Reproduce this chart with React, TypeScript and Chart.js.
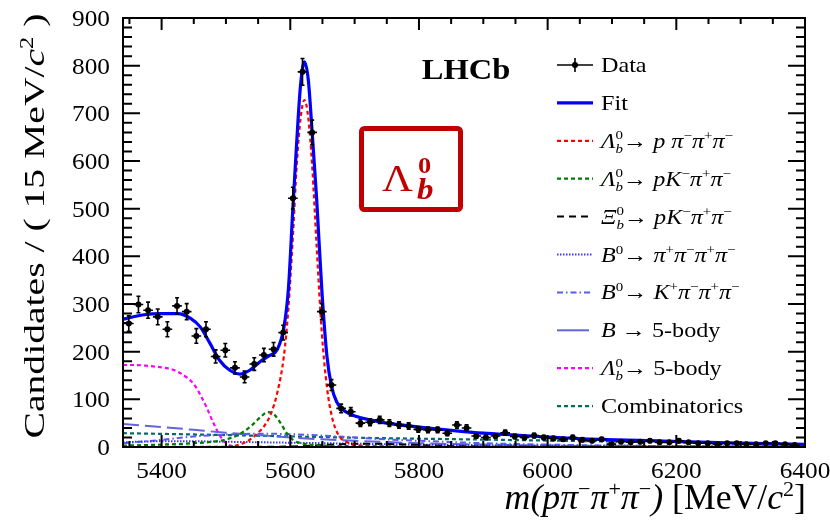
import React, { useEffect, useRef } from "react";
import { Chart, registerables } from "chart.js";
Chart.register(...registerables);

// ---------- DATA ----------
const massBins = [
  5349, 5364, 5379, 5394, 5409, 5424, 5439, 5454, 5469, 5484,
  5499, 5514, 5529, 5544, 5559, 5574, 5589, 5604, 5619, 5634,
  5649, 5664, 5679, 5694, 5709, 5724, 5739, 5754, 5769, 5784,
  5799, 5814, 5829, 5844, 5859, 5874, 5889, 5904, 5919, 5934,
  5949, 5964, 5979, 5994, 6009, 6024, 6039, 6054, 6069, 6084,
  6099, 6114, 6129, 6144, 6159, 6174, 6189, 6204, 6219, 6234,
  6249, 6264, 6279, 6294, 6309, 6324, 6339, 6354, 6369, 6384,
];
const candidates = [
  259, 299, 287, 273, 247, 296, 284, 233, 247, 190,
  203, 166, 147, 174, 193, 205, 240, 522, 787, 660,
  284, 130, 81, 74, 50, 52, 57, 50, 46, 44,
  37, 36, 36, 29, 46, 40, 23, 20, 23, 30,
  22, 20, 24, 20, 18, 16, 20, 15, 13, 16,
  6, 11, 10, 11, 13, 10, 10, 13, 10, 8,
  8, 6, 8, 8, 6, 6, 8, 8, 6, 4,
];

const fitMass = [5340, 5370, 5400, 5425, 5445, 5460, 5475, 5490, 5506, 5522, 5537, 5553, 5568, 5580, 5590, 5597, 5604, 5610, 5616, 5622, 5628, 5634, 5641, 5649, 5657, 5664, 5672, 5682, 5703, 5724, 5750, 5800, 5850, 5900, 5950, 6000, 6080, 6180, 6280, 6400];
const fitVals = [268, 277, 280, 280, 270, 252, 218, 182, 161, 153, 161, 179, 192, 205, 250, 330, 500, 640, 760, 808, 770, 660, 520, 330, 190, 128, 95, 78, 64, 57, 50, 42, 35, 29, 25, 21, 16, 12.5, 8.5, 5.5];

const signalMass = [5340, 5500, 5525, 5540, 5550, 5560, 5570, 5580, 5590, 5597, 5604, 5610, 5616, 5622, 5628, 5634, 5641, 5649, 5657, 5665, 5675, 5690, 5710, 5750, 5800, 6400];
const signalVals = [0.2, 0.5, 7, 18, 30, 45, 70, 115, 190, 290, 440, 590, 690, 728, 690, 590, 420, 240, 125, 62, 25, 9, 3, 1, 0.3, 0];

const pkpipiMass = [5340, 5400, 5450, 5490, 5510, 5525, 5540, 5553, 5565, 5575, 5585, 5595, 5605, 5620, 5650, 5700, 5800, 6400];
const pkpipiVals = [3, 5, 8, 13, 20, 30, 45, 62, 73, 68, 50, 28, 14, 7, 3, 1.5, 0.5, 0];

const xibMass = [5340, 5560, 5620, 5680, 5720, 5760, 5820, 5900, 6000, 6400];
const xibVals = [0, 0.3, 2, 6, 7, 6, 3, 1, 0.3, 0];

const b4piMass = [5340, 5400, 5450, 5500, 5550, 5600, 5700, 5800, 5900, 6000, 6200, 6400];
const b4piVals = [10, 12, 12, 11, 10, 9, 7, 5, 4, 3, 2, 0.5];

const bk3piMass = [5340, 5400, 5450, 5500, 5550, 5600, 5650, 5700, 5750, 5800, 5900, 6000, 6100, 6250, 6400];
const bk3piVals = [8, 15, 22, 26, 28, 27, 24, 20, 16, 13, 8, 5, 3, 1.5, 0.5];

const b5bodyMass = [5340, 5400, 5450, 5500, 5550, 5600, 5650, 5700, 5800, 5900, 6000, 6200, 6400];
const b5bodyVals = [48, 42, 36, 30, 25, 20, 16, 13, 8, 5, 3, 1, 0.5];

const lb5bodyMass = [5340, 5360, 5380, 5400, 5420, 5440, 5450, 5460, 5470, 5480, 5490, 5500, 5510, 5520, 6400];
const lb5bodyVals = [172, 172, 170, 167, 161, 145, 132, 110, 83, 52, 25, 8, 2, 0, 0];

const combMass = [5340, 5500, 5700, 5900, 6050, 6200, 6400];
const combVals = [29, 25, 19.5, 15.5, 12.5, 9.5, 4];

const xTickValues = [5400, 5600, 5800, 6000, 6200, 6400];
const xTickLabels = ["5400", "5600", "5800", "6000", "6200", "6400"];
const yTickValues = [0, 100, 200, 300, 400, 500, 600, 700, 800, 900];
const yTickLabels = ["0", "100", "200", "300", "400", "500", "600", "700", "800", "900"];

// ---------- TEXT ----------
type Run = { t: string; f?: string; s?: number; dy?: number; stack?: boolean };
const SUP = (t: string): Run => ({ t, s: 0.62, dy: -0.38 });
const SUPS = (t: string): Run => ({ t, s: 0.62, dy: -0.4, stack: true });
const SUB = (t: string): Run => ({ t, f: "i", s: 0.62, dy: 0.24 });
const lambdaB: Run[] = [{ t: "Λ", f: "i" }, SUPS("0"), SUB("b")];

const legendLabels: Run[][] = [
  [{ t: "Data" }],
  [{ t: "Fit" }],
  [...lambdaB, { t: "→ " }, { t: "p", f: "i" }, { t: " π", f: "i" }, SUP("−"), { t: "π", f: "i" }, SUP("+"), { t: "π", f: "i" }, SUP("−")],
  [...lambdaB, { t: "→ " }, { t: "pK", f: "i" }, SUP("−"), { t: "π", f: "i" }, SUP("+"), { t: "π", f: "i" }, SUP("−")],
  [{ t: "Ξ", f: "i" }, SUPS("0"), SUB("b"), { t: "→ " }, { t: "pK", f: "i" }, SUP("−"), { t: "π", f: "i" }, SUP("+"), { t: "π", f: "i" }, SUP("−")],
  [{ t: "B", f: "i" }, SUP("0"), { t: "→ " }, { t: "π", f: "i" }, SUP("+"), { t: "π", f: "i" }, SUP("−"), { t: "π", f: "i" }, SUP("+"), { t: "π", f: "i" }, SUP("−")],
  [{ t: "B", f: "i" }, SUP("0"), { t: "→ " }, { t: "K", f: "i" }, SUP("+"), { t: "π", f: "i" }, SUP("−"), { t: "π", f: "i" }, SUP("+"), { t: "π", f: "i" }, SUP("−")],
  [{ t: "B", f: "i" }, { t: " → 5-body" }],
  [...lambdaB, { t: "→ 5-body" }],
  [{ t: "Combinatorics" }],
];
const yTitle: Run[] = [{ t: "Candidates / ( 15 MeV/" }, { t: "c", f: "i" }, SUP("2"), { t: " )" }];
const xTitle: Run[] = [
  { t: "m(p", f: "i" }, { t: "π", f: "i" }, SUP("−"), { t: "π", f: "i" }, SUP("+"), { t: "π", f: "i" }, SUP("−"), { t: ")", f: "i" },
  { t: " [MeV/" }, { t: "c", f: "i" }, SUP("2"), { t: "]" },
];
const experimentLabel = "LHCb";

const FONT = "'Liberation Serif', 'Times New Roman', serif";
function fontStr(f: string | undefined, size: number) {
  const st = f === "i" ? "italic " : f === "b" ? "bold " : f === "bi" ? "italic bold " : "";
  return `${st}${Math.round(size * 10) / 10}px ${FONT}`;
}
function measureRuns(ctx: CanvasRenderingContext2D, runs: Run[], size: number) {
  let w = 0, pend = 0;
  for (const r of runs) {
    ctx.font = fontStr(r.f, size * (r.s ?? 1));
    const rw = ctx.measureText(r.t).width;
    if (r.stack) pend = rw;
    else { w += Math.max(rw, pend); pend = 0; }
  }
  return w + pend;
}
function drawRuns(ctx: CanvasRenderingContext2D, runs: Run[], x: number, y: number, size: number, sx: number, align: string, color: string) {
  const w = measureRuns(ctx, runs, size) * sx;
  const x0 = align === "left" ? x : align === "right" ? x - w : x - w / 2;
  ctx.save();
  ctx.translate(x0, y);
  ctx.scale(sx, 1);
  ctx.fillStyle = color;
  ctx.textBaseline = "alphabetic";
  ctx.textAlign = "left";
  let cx = 0, pend = 0;
  for (const r of runs) {
    ctx.font = fontStr(r.f, size * (r.s ?? 1));
    const rw = ctx.measureText(r.t).width;
    ctx.fillText(r.t, cx, (r.dy ?? 0) * size);
    if (r.stack) pend = rw;
    else { cx += Math.max(rw, pend); pend = 0; }
  }
  ctx.restore();
}

type Comp = { mass: number[]; vals: number[]; color: string; dash: number[]; width: number; legendSolid?: boolean };
const components: Comp[] = [
  { mass: signalMass, vals: signalVals, color: "#ff0000", dash: [4, 3], width: 2.2 },
  { mass: pkpipiMass, vals: pkpipiVals, color: "#007a00", dash: [4, 3], width: 2.2 },
  { mass: xibMass, vals: xibVals, color: "#000000", dash: [7, 5], width: 2 },
  { mass: b4piMass, vals: b4piVals, color: "#3a3aff", dash: [1.5, 1.5], width: 2 },
  { mass: bk3piMass, vals: bk3piVals, color: "#5a5af0", dash: [6, 3, 1.5, 3], width: 2 },
  { mass: b5bodyMass, vals: b5bodyVals, color: "#6464dc", dash: [16, 6], width: 2, legendSolid: true },
  { mass: lb5bodyMass, vals: lb5bodyVals, color: "#ff00ff", dash: [4, 3], width: 2.2 },
  { mass: combMass, vals: combVals, color: "#006b6b", dash: [4, 3], width: 2.2 },
];

const errorBarPlugin = {
  id: "errbars",
  afterDatasetsDraw(chart: any) {
    const { ctx, scales } = chart;
    const xs = scales.x, ys = scales.y;
    ctx.save();
    ctx.strokeStyle = "#000";
    ctx.lineWidth = 1.6;
    for (let i = 0; i < massBins.length; i++) {
      const m = massBins[i], n = candidates[i];
      const e = Math.sqrt(n);
      const px = xs.getPixelForValue(m);
      const py = ys.getPixelForValue(n);
      const pl = xs.getPixelForValue(m - 7.5), pr = xs.getPixelForValue(m + 7.5);
      const pt = ys.getPixelForValue(n + e), pb = ys.getPixelForValue(n - e);
      ctx.beginPath();
      ctx.moveTo(pl, py); ctx.lineTo(pr, py);
      ctx.moveTo(px, pt); ctx.lineTo(px, pb);
      ctx.moveTo(px - 2, pt); ctx.lineTo(px + 2, pt);
      ctx.moveTo(px - 2, pb); ctx.lineTo(px + 2, pb);
      ctx.stroke();
      ctx.beginPath();
      ctx.fillStyle = "#000";
      ctx.arc(px, py, 3, 0, Math.PI * 2);
      ctx.fill();
    }
    ctx.restore();
  },
};

const framePlugin = {
  id: "frame",
  afterDraw(chart: any) {
    const { ctx, chartArea: a, scales } = chart;
    const xs = scales.x, ys = scales.y;
    ctx.save();
    ctx.strokeStyle = "#000";
    ctx.lineWidth = 2;
    ctx.setLineDash([]);
    ctx.strokeRect(a.left, a.top, a.right - a.left, a.bottom - a.top);
    ctx.beginPath();
    for (let v = 5350; v <= 6400; v += 50) {
      const px = xs.getPixelForValue(v);
      const major = (v - 5400) % 200 === 0;
      const L = major ? 12 : 6;
      ctx.moveTo(px, a.bottom); ctx.lineTo(px, a.bottom - L);
      ctx.moveTo(px, a.top); ctx.lineTo(px, a.top + L);
    }
    for (let v = 0; v <= 900; v += 20) {
      const py = ys.getPixelForValue(v);
      const major = v % 100 === 0;
      const L = major ? 17 : 9;
      ctx.moveTo(a.left, py); ctx.lineTo(a.left + L, py);
      ctx.moveTo(a.right, py); ctx.lineTo(a.right - L, py);
    }
    ctx.stroke();

    // tick labels
    const tickSize = 23, tickSx = 1.1;
    xTickValues.forEach((v, i) => {
      drawRuns(ctx, [{ t: xTickLabels[i] }], xs.getPixelForValue(v), 478, tickSize, tickSx, "center", "#000");
    });
    yTickValues.forEach((v, i) => {
      drawRuns(ctx, [{ t: yTickLabels[i] }], 110, ys.getPixelForValue(v) + 8, tickSize, tickSx, "right", "#000");
    });

    // axis titles
    drawRuns(ctx, xTitle, 806, 509, 35, 1.02, "right", "#000");
    ctx.save();
    ctx.translate(44, 226);
    ctx.rotate(-Math.PI / 2);
    const natural = measureRuns(ctx, yTitle, 30);
    drawRuns(ctx, yTitle, 0, 0, 30, 425 / natural, "center", "#000");
    ctx.restore();

    // LHCb label
    drawRuns(ctx, [{ t: experimentLabel, f: "b" }], 466, 79, 29, 1.12, "center", "#000");

    // Lambda_b box
    ctx.save();
    ctx.strokeStyle = "#c00000";
    ctx.lineWidth = 5;
    ctx.beginPath();
    (ctx as any).roundRect ? (ctx as any).roundRect(361.5, 128.5, 99, 81, 3) : ctx.rect(361.5, 128.5, 99, 81);
    ctx.stroke();
    ctx.restore();
    drawRuns(ctx, [{ t: "Λ" }], 382, 191, 38, 1.12, "left", "#c00000");
    drawRuns(ctx, [{ t: "0", f: "b" }], 418, 173, 24, 1.1, "left", "#c00000");
    drawRuns(ctx, [{ t: "b", f: "bi" }], 417, 199, 30, 1.1, "left", "#c00000");

    // legend
    const x1 = 557, x2 = 593, tx = 601;
    legendLabels.forEach((runs, i) => {
      const cy = 65 + 37.9 * i;
      ctx.save();
      if (i === 0) {
        ctx.strokeStyle = "#000"; ctx.lineWidth = 1.6;
        ctx.beginPath();
        ctx.moveTo(x1, cy); ctx.lineTo(x2, cy);
        ctx.moveTo(575, cy - 7); ctx.lineTo(575, cy + 7);
        ctx.stroke();
        ctx.beginPath(); ctx.fillStyle = "#000"; ctx.arc(575, cy, 3, 0, Math.PI * 2); ctx.fill();
      } else if (i === 1) {
        ctx.strokeStyle = "#0000ff"; ctx.lineWidth = 3.2;
        ctx.beginPath(); ctx.moveTo(x1, cy); ctx.lineTo(x2, cy); ctx.stroke();
      } else {
        const c = components[i - 2];
        ctx.strokeStyle = c.color; ctx.lineWidth = c.width;
        ctx.setLineDash(c.legendSolid ? [] : c.dash);
        ctx.beginPath(); ctx.moveTo(x1, cy); ctx.lineTo(c.legendSolid ? 589 : x2, cy); ctx.stroke();
      }
      ctx.restore();
      drawRuns(ctx, runs, tx, cy + 7, 21, 1.15, "left", "#000");
    });
    ctx.restore();
  },
};

export default function App() {
  const ref = useRef<HTMLCanvasElement | null>(null);
  useEffect(() => {
    if (!ref.current) return;
    const pts = (m: number[], v: number[]) => m.map((x, i) => ({ x, y: v[i] }));
    const datasets: any[] = [
      {
        label: "Data",
        data: pts(massBins, candidates),
        showLine: false,
        pointRadius: 0,
        order: 0,
      },
      {
        label: "Fit",
        data: pts(fitMass, fitVals),
        borderColor: "#0000ff",
        borderWidth: 3.2,
        pointRadius: 0,
        fill: false,
        cubicInterpolationMode: "monotone",
        order: 1,
      },
      ...components.map((c, i) => ({
        label: "c" + i,
        data: pts(c.mass, c.vals),
        borderColor: c.color,
        borderWidth: c.width,
        borderDash: c.dash,
        pointRadius: 0,
        fill: false,
        cubicInterpolationMode: "monotone",
        order: 2 + i,
      })),
    ];
    const chart = new Chart(ref.current, {
      type: "line",
      data: { datasets },
      options: {
        responsive: false,
        animation: false,
        devicePixelRatio: 1,
        layout: { padding: { top: 18, right: 25, left: 0, bottom: 0 } },
        plugins: { legend: { display: false }, tooltip: { enabled: false } },
        scales: {
          x: {
            type: "linear", min: 5340, max: 6400,
            grid: { display: false }, border: { display: false }, ticks: { display: false },
            afterFit: (s: any) => { s.height = 79; },
          },
          y: {
            type: "linear", min: 0, max: 900,
            grid: { display: false }, border: { display: false }, ticks: { display: false },
            afterFit: (s: any) => { s.width = 123; },
          },
        },
      } as any,
      plugins: [errorBarPlugin, framePlugin],
    });
    let alive = true;
    const fonts = (document as any).fonts;
    if (fonts && fonts.load) {
      Promise.all([
        fonts.load("20px 'Liberation Serif'"),
        fonts.load("italic 20px 'Liberation Serif'"),
        fonts.load("bold 20px 'Liberation Serif'"),
        fonts.load("italic bold 20px 'Liberation Serif'"),
      ]).then(() => { if (alive) chart.draw(); }).catch(() => {});
    }
    return () => { alive = false; chart.destroy(); };
  }, []);
  return (
    <div style={{ position: "fixed", left: 0, top: 0, width: 830, height: 526, background: "#fff" }}>
      <canvas ref={ref} width={830} height={526} style={{ display: "block", width: 830, height: 526 }} />
    </div>
  );
}
